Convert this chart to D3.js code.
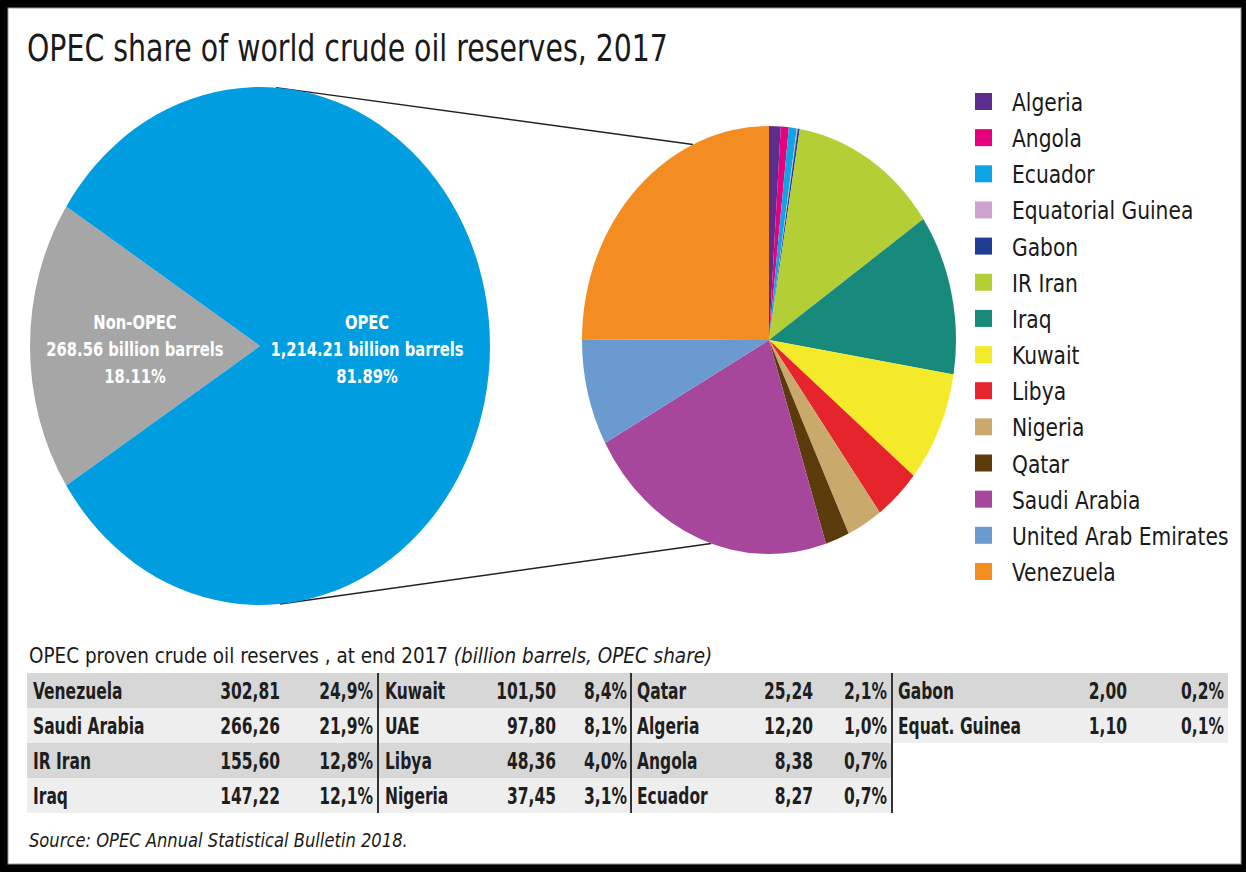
<!DOCTYPE html>
<html lang="en">
<head>
  <meta charset="UTF-8">
  <title>OPEC share of world crude oil reserves, 2017</title>
  <style>
    body {
      margin: 0;
      background: #000;
      font-family: "DejaVu Sans Condensed", "DejaVu Sans", sans-serif;
      font-stretch: condensed;
    }
    svg { display: block; }
  </style>
</head>
<body>
  <div id="chart"></div>

  <script src="https://d3js.org/d3.v7.min.js"></script>
  <script>
    // world split
    const worldLabels = ["Non-OPEC", "OPEC"];
    const worldValues = [268.56, 1214.21];
    const worldShares = [18.11, 81.89];
    const worldColors = ["#a6a6a6", "#009ee0"];

    // OPEC members, in pie order
    const countries = ["Algeria", "Angola", "Ecuador", "Equatorial Guinea", "Gabon", "IR Iran", "Iraq",
      "Kuwait", "Libya", "Nigeria", "Qatar", "Saudi Arabia", "United Arab Emirates", "Venezuela"];
    const reserves = [12.20, 8.38, 8.27, 1.10, 2.00, 155.60, 147.22, 101.50, 48.36, 37.45, 25.24, 266.26, 97.80, 302.81];
    const countryColors = ["#5c2d8f", "#e6007e", "#0ea5e4", "#cfa3cf", "#1f3d91", "#b4cf35", "#178a7b",
      "#f5ea2a", "#e5242b", "#caa96c", "#5b3a0c", "#a6479c", "#6a9ad0", "#f38d22"];

    // table (sorted, short names)
    const tableNames = ["Venezuela", "Saudi Arabia", "IR Iran", "Iraq", "Kuwait", "UAE", "Libya", "Nigeria",
      "Qatar", "Algeria", "Angola", "Ecuador", "Gabon", "Equat. Guinea"];
    const tableValues = [302.81, 266.26, 155.60, 147.22, 101.50, 97.80, 48.36, 37.45, 25.24, 12.20, 8.38, 8.27, 2.00, 1.10];
    const tableShares = [24.9, 21.9, 12.8, 12.1, 8.4, 8.1, 4.0, 3.1, 2.1, 1.0, 0.7, 0.7, 0.2, 0.1];

    const width = 1246;
    const height = 872;

    // narrow a text horizontally around its anchor (the original face is condensed)
    function squeeze(sel, k) {
      sel.attr("transform", function () {
        const x = +this.getAttribute("x") || 0, y = +this.getAttribute("y") || 0;
        return `translate(${x},${y}) scale(${k},1) translate(${-x},${-y})`;
      });
    }

    const svg = d3.select("#chart").append("svg")
      .attr("width", width)
      .attr("height", height);

    // frame
    svg.append("rect").attr("width", width).attr("height", height).attr("fill", "#000");
    svg.append("rect")
      .attr("x", 8).attr("y", 8).attr("width", 1233).attr("height", 856)
      .attr("fill", "#fff").attr("stroke", "#999").attr("stroke-width", 1);

    svg.append("text")
      .attr("x", 27).attr("y", 61)
      .attr("font-size", 37)
      .attr("fill", "#1a1a1a")
      .text("OPEC share of world crude oil reserves, 2017")
      .call(squeeze, 0.853);

    // ellipse helpers: pies are circles squashed horizontally
    const left = { cx: 260, cy: 346, rx: 230, ry: 259 };
    const right = { cx: 769, cy: 340, rx: 187, ry: 214 };
    const onEllipse = (p, deg) => {
      const a = deg * Math.PI / 180;
      return [p.cx + p.rx * Math.sin(a), p.cy - p.ry * Math.cos(a)];
    };

    // connector lines
    const links = [[onEllipse(left, 4), onEllipse(right, -24)], [onEllipse(left, 175), onEllipse(right, 198)]];
    svg.selectAll(".link")
      .data(links)
      .enter()
      .append("line")
      .attr("x1", d => d[0][0]).attr("y1", d => d[0][1])
      .attr("x2", d => d[1][0]).attr("y2", d => d[1][1])
      .attr("stroke", "#222")
      .attr("stroke-width", 1.4);

    // left pie
    const nonShare = worldValues[0] / d3.sum(worldValues);
    const start = -Math.PI / 2 - nonShare * Math.PI;
    const worldPie = d3.pie().sort(null).value(d => d)
      .startAngle(start).endAngle(start + 2 * Math.PI);
    const worldArc = d3.arc().innerRadius(0).outerRadius(left.ry);

    svg.append("g")
      .attr("transform", `translate(${left.cx},${left.cy}) scale(${left.rx / left.ry},1)`)
      .selectAll("path")
      .data(worldPie(worldValues))
      .enter()
      .append("path")
      .attr("d", worldArc)
      .attr("fill", (d, i) => worldColors[i]);

    const fmtBarrels = d3.format(",.2f");
    const labelX = [left.cx - 125, left.cx + 107];
    const worldText = svg.append("g")
      .attr("font-size", 20)
      .attr("font-weight", "bold")
      .attr("fill", "#fff")
      .attr("text-anchor", "middle");
    worldLabels.forEach((name, i) => {
      const lines = [name, fmtBarrels(worldValues[i]) + " billion barrels", worldShares[i].toFixed(2) + "%"];
      worldText.selectAll(null)
        .data(lines)
        .enter()
        .append("text")
        .attr("x", labelX[i])
        .attr("y", (d, j) => 329 + j * 27)
        .text(d => d)
        .call(squeeze, 0.82);
    });

    // right pie
    const opecPie = d3.pie().sort(null).value(d => d);
    const opecArc = d3.arc().innerRadius(0).outerRadius(right.ry);
    svg.append("g")
      .attr("transform", `translate(${right.cx},${right.cy}) scale(${right.rx / right.ry},1)`)
      .selectAll("path")
      .data(opecPie(reserves))
      .enter()
      .append("path")
      .attr("d", opecArc)
      .attr("fill", (d, i) => countryColors[i]);

    // legend
    const legend = svg.append("g")
      .attr("transform", "translate(975,102)")
      .selectAll("g")
      .data(countries)
      .enter()
      .append("g")
      .attr("transform", (d, i) => `translate(0,${i * 36.15})`);
    legend.append("rect")
      .attr("x", 0).attr("y", -9)
      .attr("width", 17).attr("height", 17)
      .attr("fill", (d, i) => countryColors[i]);
    legend.append("text")
      .attr("x", 37).attr("y", 9)
      .attr("font-size", 25)
      .attr("fill", "#1a1a1a")
      .text(d => d)
      .call(squeeze, 0.9);

    // table
    const header = svg.append("text")
      .attr("x", 29).attr("y", 663)
      .attr("font-size", 22)
      .attr("fill", "#1a1a1a");
    header.append("tspan").text("OPEC proven crude oil reserves , at end 2017 ");
    header.append("tspan").attr("font-style", "italic").text("(billion barrels, OPEC share)");
    header.call(squeeze, 0.93);

    const rowTop = 673;
    const rowH = 35;
    const cols = [
      { x0: 27, x1: 378, name: 33, val: 280, pct: 373 },
      { x0: 378, x1: 631, name: 385, val: 556, pct: 627 },
      { x0: 631, x1: 892, name: 637, val: 813, pct: 887 },
      { x0: 892, x1: 1228, name: 898, val: 1127, pct: 1224 }
    ];
    const fmtVal = v => d3.format(".2f")(v).replace(".", ",");
    const fmtPct = v => d3.format(".1f")(v).replace(".", ",") + "%";

    const cells = tableNames.map((name, i) => ({
      name, value: tableValues[i], share: tableShares[i], col: Math.floor(i / 4), row: i % 4
    }));

    const table = svg.append("g");
    table.selectAll("rect")
      .data(cells)
      .enter()
      .append("rect")
      .attr("x", d => cols[d.col].x0)
      .attr("y", d => rowTop + d.row * rowH)
      .attr("width", d => cols[d.col].x1 - cols[d.col].x0)
      .attr("height", rowH)
      .attr("fill", d => d.row % 2 === 0 ? "#d7d7d7" : "#eeeeee");

    const rowText = table.selectAll(".cell")
      .data(cells)
      .enter()
      .append("g")
      .attr("transform", d => `translate(0,${rowTop + d.row * rowH + rowH / 2 + 8})`)
      .attr("font-size", 23)
      .attr("font-weight", "bold")
      .attr("fill", "#1e1e1e");
    rowText.append("text").attr("x", d => cols[d.col].name).text(d => d.name).call(squeeze, 0.75);
    rowText.append("text").attr("x", d => cols[d.col].val).attr("text-anchor", "end")
      .text(d => fmtVal(d.value)).call(squeeze, 0.75);
    rowText.append("text").attr("x", d => cols[d.col].pct).attr("text-anchor", "end")
      .text(d => fmtPct(d.share)).call(squeeze, 0.75);

    table.selectAll(".divider")
      .data(cols.slice(1))
      .enter()
      .append("line")
      .attr("x1", d => d.x0).attr("x2", d => d.x0)
      .attr("y1", rowTop).attr("y2", rowTop + 4 * rowH)
      .attr("stroke", "#333")
      .attr("stroke-width", 2);

    svg.append("text")
      .attr("x", 29).attr("y", 847)
      .attr("font-size", 19)
      .attr("font-style", "italic")
      .attr("fill", "#1a1a1a")
      .text("Source: OPEC Annual Statistical Bulletin 2018.")
      .call(squeeze, 0.957);
  </script>
</body>
</html>
